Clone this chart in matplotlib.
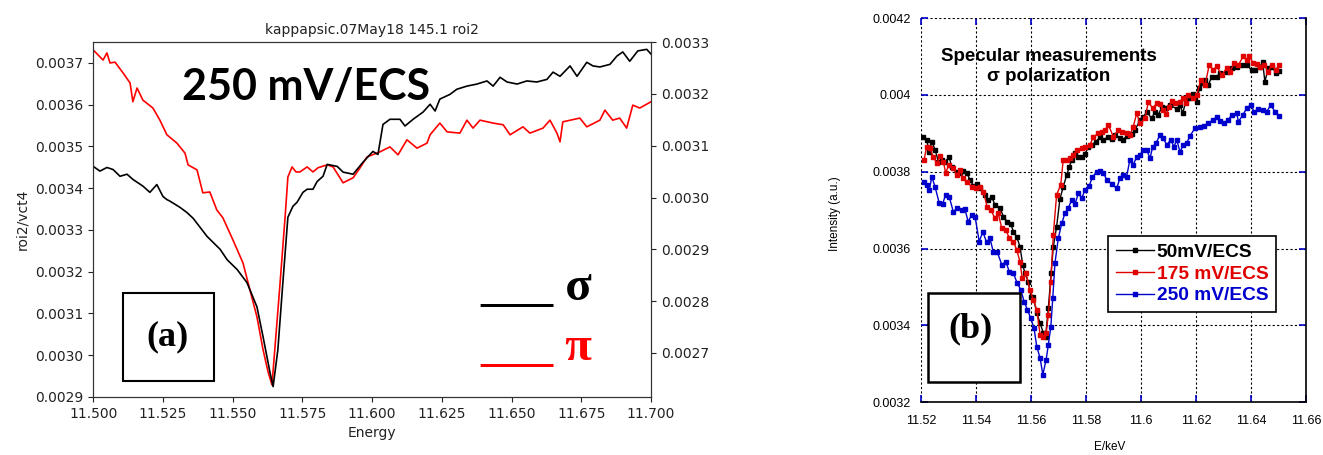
"""Two-panel XANES comparison: (a) sigma/pi at 250 mV/ECS, (b) specular sigma vs potential."""
import numpy as np
import matplotlib
matplotlib.use("Agg")
import matplotlib.pyplot as plt
from matplotlib.patches import Rectangle
from matplotlib.ticker import FormatStrFormatter, FuncFormatter, MultipleLocator

# ---- panel (a): 250 mV/ECS, pi (red, left axis) and sigma (black, right axis) ----
a_pi_energy = [11.500, 11.5035, 11.5049, 11.506, 11.5078, 11.5107, 11.5132, 11.5142, 11.5157, 11.5178,
               11.5214, 11.5239, 11.5264, 11.530, 11.5329, 11.534, 11.5372, 11.5393, 11.5418, 11.5443,
               11.5465, 11.5501, 11.5537, 11.5562, 11.5587, 11.5609, 11.5627, 11.5641, 11.567, 11.5688,
               11.5698, 11.5713, 11.5727, 11.5741, 11.5767, 11.5788, 11.5806, 11.5839, 11.586, 11.5896,
               11.5932, 11.5957, 11.5982, 11.6028, 11.6064, 11.6093, 11.6125, 11.6161, 11.6197, 11.6208,
               11.6243, 11.6269, 11.6315, 11.634, 11.6362, 11.6387, 11.6434, 11.647, 11.6495, 11.6541,
               11.6566, 11.6613, 11.6638, 11.6663, 11.6674, 11.6684, 11.6745, 11.677, 11.6817, 11.6835,
               11.6863, 11.6888, 11.6913, 11.6935, 11.696, 11.700]
a_pi_e4 = [37.31, 37.07, 37.24, 37.00, 37.02, 36.76, 36.52, 36.07, 36.40, 36.11,
           35.92, 35.63, 35.28, 35.08, 34.84, 34.56, 34.44, 33.89, 33.91, 33.48,
           33.29, 32.76, 32.21, 31.56, 30.92, 30.13, 29.60, 29.29, 31.73, 33.31,
           34.27, 34.51, 34.39, 34.39, 34.51, 34.39, 34.49, 34.56, 34.51, 34.13,
           34.25, 34.49, 34.75, 34.87, 34.99, 34.80, 35.16, 34.96, 35.08, 35.28,
           35.56, 35.35, 35.32, 35.63, 35.44, 35.63, 35.56, 35.52, 35.28, 35.47,
           35.32, 35.44, 35.63, 35.32, 35.11, 35.59, 35.68, 35.47, 35.63, 35.87,
           35.63, 35.68, 35.44, 35.99, 35.92, 36.07]

a_sigma_energy = [11.500, 11.5024, 11.5049, 11.5071, 11.5096, 11.5121, 11.5142, 11.5178, 11.5203, 11.5228,
                  11.525, 11.5264, 11.5275, 11.5311, 11.5336, 11.5358, 11.5408, 11.5455, 11.548, 11.5516,
                  11.5551, 11.5587, 11.5609, 11.5634, 11.5645, 11.5662, 11.568, 11.5698, 11.5716, 11.5731,
                  11.5752, 11.5767, 11.5788, 11.5803, 11.5824, 11.5839, 11.5875, 11.5896, 11.5932, 11.5967,
                  11.6003, 11.6021, 11.6039, 11.6064, 11.610, 11.6118, 11.6147, 11.6183, 11.6208, 11.6226,
                  11.6243, 11.6279, 11.6304, 11.634, 11.6376, 11.6412, 11.6434, 11.6459, 11.6484, 11.652,
                  11.6555, 11.6591, 11.6627, 11.6649, 11.6674, 11.671, 11.6735, 11.677, 11.6792, 11.6817,
                  11.6853, 11.6878, 11.6899, 11.6924, 11.6953, 11.6985, 11.700]
a_sigma_e4 = [30.60, 30.51, 30.58, 30.54, 30.41, 30.45, 30.35, 30.22, 30.10, 30.25,
              30.02, 29.96, 29.93, 29.81, 29.71, 29.60, 29.25, 29.00, 28.80, 28.61,
              28.36, 27.89, 27.31, 26.62, 26.35, 27.06, 28.36, 29.62, 29.83, 29.91,
              30.10, 30.16, 30.16, 30.31, 30.41, 30.64, 30.60, 30.49, 30.45, 30.68,
              30.89, 30.83, 31.41, 31.51, 31.51, 31.38, 31.51, 31.65, 31.80, 31.67,
              31.90, 31.99, 32.09, 32.15, 32.19, 32.25, 32.15, 32.32, 32.23, 32.19,
              32.25, 32.23, 32.28, 32.42, 32.34, 32.54, 32.34, 32.61, 32.54, 32.52,
              32.57, 32.73, 32.81, 32.63, 32.83, 32.86, 32.77]

# ---- panel (b): specular, sigma polarization, three potentials ----
b50_energy = [11.5209, 11.5221, 11.5231, 11.524, 11.5252, 11.5264, 11.5276, 11.5288, 11.5303, 11.5312,
              11.533, 11.5342, 11.5354, 11.5367, 11.5379, 11.5391, 11.5405, 11.5415, 11.5433, 11.5445,
              11.5457, 11.5469, 11.5488, 11.550, 11.5514, 11.5527, 11.5536, 11.5548, 11.556, 11.557,
              11.5578, 11.559, 11.560, 11.5608, 11.5621, 11.5633, 11.5645, 11.5653, 11.5663, 11.5673,
              11.5681, 11.5693, 11.5705, 11.5717, 11.573, 11.5739, 11.5748, 11.576, 11.5772, 11.5784,
              11.5796, 11.5808, 11.582, 11.5836, 11.5851, 11.5863, 11.5881, 11.5893, 11.5905, 11.5923,
              11.5935, 11.5947, 11.5966, 11.5978, 11.5996, 11.6008, 11.602, 11.6038, 11.605, 11.6062,
              11.6075, 11.609, 11.6105, 11.6129, 11.6141, 11.6151, 11.6163, 11.6177, 11.6189, 11.6202,
              11.6211, 11.622, 11.6232, 11.6244, 11.6256, 11.6274, 11.6286, 11.631, 11.6329, 11.6347,
              11.6365, 11.6383, 11.6401, 11.6413, 11.6431, 11.6441, 11.6449, 11.6461, 11.6474, 11.6489,
              11.6501]
b50_e4 = [38.91, 38.83, 38.52, 38.78, 38.57, 38.26, 38.31, 38.26, 38.38, 38.13,
          38.00, 37.96, 38.03, 37.96, 37.79, 37.63, 37.68, 37.57, 37.40, 37.27,
          37.35, 37.14, 37.05, 36.83, 36.70, 36.64, 36.44, 36.31, 36.05, 35.58,
          35.36, 35.14, 34.74, 34.75, 34.32, 34.06, 33.80, 33.70, 34.45, 35.36,
          36.05, 36.57, 37.29, 37.61, 37.92, 38.13, 38.31, 38.48, 38.39, 38.38,
          38.46, 38.65, 38.70, 38.78, 38.91, 38.83, 38.91, 38.85, 38.96, 38.87,
          38.83, 38.93, 38.98, 39.09, 39.35, 39.42, 39.56, 39.39, 39.56, 39.48,
          39.68, 39.65, 39.74, 39.63, 39.74, 39.52, 39.87, 39.91, 40.02, 39.82,
          40.17, 40.30, 40.39, 40.26, 40.47, 40.47, 40.56, 40.60, 40.69, 40.73,
          40.78, 40.78, 40.65, 40.65, 40.72, 40.86, 40.34, 40.69, 40.73, 40.58,
          40.63]

b175_energy = [11.5212, 11.5221, 11.5233, 11.5245, 11.5258, 11.527, 11.5282, 11.529, 11.5303, 11.5318,
               11.533, 11.5342, 11.5354, 11.5367, 11.5385, 11.540, 11.5415, 11.5427, 11.5441, 11.5454,
               11.5469, 11.5481, 11.5494, 11.5509, 11.5521, 11.5536, 11.5548, 11.556, 11.5568, 11.5582,
               11.5596, 11.5608, 11.5621, 11.5633, 11.5645, 11.5655, 11.5663, 11.5672, 11.5681, 11.5693,
               11.5708, 11.5717, 11.573, 11.5742, 11.5754, 11.5766, 11.5784, 11.5796, 11.5814, 11.5826,
               11.5844, 11.5857, 11.5869, 11.5881, 11.5899, 11.5917, 11.5929, 11.5947, 11.5959, 11.5971,
               11.5984, 11.5996, 11.6014, 11.6026, 11.6042, 11.6056, 11.6068, 11.608, 11.609, 11.6102,
               11.6111, 11.6123, 11.6141, 11.6153, 11.6163, 11.6171, 11.6189, 11.6202, 11.6216, 11.6232,
               11.6247, 11.6262, 11.6274, 11.6292, 11.631, 11.6322, 11.6337, 11.6353, 11.6371, 11.6383,
               11.6393, 11.6407, 11.6419, 11.6431, 11.6446, 11.6461, 11.6474, 11.6489, 11.6501]
b175_e4 = [38.31, 38.65, 38.61, 38.39, 38.22, 38.41, 38.26, 37.98, 38.18, 38.09,
           37.92, 38.05, 37.83, 37.74, 37.61, 37.57, 37.61, 37.48, 37.09, 37.01,
           36.79, 36.92, 36.53, 36.49, 36.27, 36.18, 35.97, 35.66, 35.23, 35.36,
           34.93, 34.67, 34.41, 33.76, 33.71, 33.80, 34.28, 35.14, 36.36, 37.40,
           37.66, 38.31, 38.31, 38.35, 38.44, 38.57, 38.61, 38.65, 38.70, 38.90,
           39.00, 39.04, 39.09, 39.22, 38.91, 39.09, 39.04, 39.00, 38.96, 39.17,
           39.52, 39.26, 39.39, 39.82, 39.65, 39.78, 39.76, 39.61, 39.50, 39.69,
           39.85, 39.80, 39.82, 39.93, 39.80, 40.00, 39.91, 40.00, 40.39, 40.26,
           40.78, 40.65, 40.75, 40.52, 40.69, 40.60, 40.82, 40.78, 41.01, 40.91,
           41.01, 40.82, 40.80, 40.72, 40.78, 40.60, 40.78, 40.65, 40.78]

b250_energy = [11.5212, 11.5221, 11.5231, 11.524, 11.5252, 11.5267, 11.5279, 11.529, 11.5303, 11.5318,
               11.5332, 11.5348, 11.536, 11.5372, 11.5385, 11.5397, 11.5412, 11.5425, 11.5439, 11.5451,
               11.5463, 11.5478, 11.5494, 11.5509, 11.5521, 11.5536, 11.555, 11.5563, 11.5575, 11.5587,
               11.5599, 11.5611, 11.5621, 11.5633, 11.5643, 11.5655, 11.5663, 11.5672, 11.5679, 11.5687,
               11.5699, 11.5712, 11.5723, 11.5735, 11.5748, 11.576, 11.5772, 11.5784, 11.5796, 11.5811,
               11.5823, 11.5839, 11.5851, 11.5863, 11.5875, 11.5893, 11.5911, 11.5923, 11.5935, 11.5947,
               11.5959, 11.5971, 11.5984, 11.5996, 11.6008, 11.602, 11.6032, 11.6042, 11.6054, 11.6068,
               11.608, 11.6093, 11.6107, 11.6119, 11.6129, 11.6141, 11.6153, 11.6165, 11.6177, 11.6195,
               11.6214, 11.6228, 11.6244, 11.626, 11.6274, 11.6286, 11.6301, 11.6316, 11.6329, 11.6347,
               11.6353, 11.6369, 11.6383, 11.6398, 11.641, 11.6425, 11.6441, 11.6456, 11.647, 11.6486,
               11.6501]
b250_e4 = [37.74, 37.66, 37.53, 37.87, 37.60, 37.18, 37.16, 37.40, 37.35, 36.96,
           37.05, 37.01, 37.03, 36.70, 36.88, 36.83, 36.18, 36.44, 36.16, 36.27,
           35.92, 35.90, 35.58, 35.66, 35.40, 35.36, 35.10, 34.93, 34.62, 34.41,
           34.19, 33.93, 33.45, 33.15, 32.72, 33.11, 33.50, 33.97, 34.71, 35.62,
           36.27, 36.66, 36.92, 37.05, 37.27, 37.16, 37.44, 37.31, 37.53, 37.63,
           37.86, 38.00, 38.03, 37.97, 37.79, 37.68, 37.57, 37.83, 37.92, 37.87,
           38.31, 38.18, 38.39, 38.44, 38.57, 38.57, 38.35, 38.65, 38.74, 38.96,
           38.87, 38.70, 38.83, 38.65, 38.83, 38.52, 38.70, 38.74, 38.93, 39.13,
           39.17, 39.19, 39.26, 39.35, 39.42, 39.33, 39.28, 39.35, 39.48, 39.52,
           39.30, 39.48, 39.65, 39.74, 39.56, 39.63, 39.61, 39.56, 39.74, 39.56,
           39.45]

b_labels = ["50mV/ECS", "175 mV/ECS", "250 mV/ECS"]
b_colors = ["black", "#e00000", "#0000cc"]
SCALE = 1e-4  # intensities above are stored in units of 1e-4

fig = plt.figure(figsize=(13.23, 4.55), dpi=100)

# ================= panel (a) =================
ax1 = fig.add_axes([0.0705, 0.1275, 0.4215, 0.780])
ax2 = ax1.twinx()
ax1.plot(a_pi_energy, np.array(a_pi_e4) * SCALE, color="red", lw=1.2)
ax2.plot(a_sigma_energy, np.array(a_sigma_e4) * SCALE, color="black", lw=1.2)

ax1.set_xlim(11.5, 11.7)
ax1.set_ylim(0.00290, 0.003750)
ax2.set_ylim(0.002615, 0.003300)
ax1.xaxis.set_major_locator(MultipleLocator(0.025))
ax1.xaxis.set_major_formatter(FormatStrFormatter("%.3f"))
ax1.yaxis.set_major_locator(MultipleLocator(0.0001))
ax1.yaxis.set_major_formatter(FormatStrFormatter("%.4f"))
ax2.yaxis.set_major_locator(MultipleLocator(0.0001))
ax2.yaxis.set_major_formatter(FormatStrFormatter("%.4f"))
for ax in (ax1, ax2):
    ax.tick_params(labelsize=10, colors="#222222")
    for sp in ax.spines.values():
        sp.set_color("#333333")
ax1.set_xlabel("Energy", fontsize=10, color="#222222")
ax1.set_ylabel("roi2/vct4", fontsize=10, color="#222222")
ax1.set_title("kappapsic.07May18 145.1 roi2", fontsize=10, color="#222222")

ax1.text(0.1585, 0.836, "250 mV/ECS", transform=ax1.transAxes, fontsize=31,
         fontweight="bold", family="Lato", va="baseline", ha="left")
ax1.text(0.6934, 0.273, "___ σ", transform=ax1.transAxes, fontsize=35,
         fontweight="bold", family="Liberation Serif", color="black", va="baseline")
ax1.text(0.6934, 0.104, "___ π", transform=ax1.transAxes, fontsize=35,
         fontweight="bold", family="Liberation Serif", color="red", va="baseline")
ax1.add_patch(Rectangle((0.0527, 0.045), 0.1637, 0.248, transform=ax1.transAxes,
                        fill=False, lw=1.5, ec="black", zorder=5))
ax1.text(0.134, 0.17, "(a)", transform=ax1.transAxes, fontsize=26, fontweight="bold",
         family="Liberation Serif", ha="center", va="center")

# ================= panel (b) =================
bx = fig.add_axes([0.696, 0.1158, 0.2915, 0.8446])
series = [(b50_energy, b50_e4), (b175_energy, b175_e4), (b250_energy, b250_e4)]
for (e, v), lab, col in zip(series, b_labels, b_colors):
    bx.plot(e, np.array(v) * SCALE, color=col, lw=1.0, marker="s", ms=2.2, label=lab)

bx.set_xlim(11.52, 11.66)
bx.set_ylim(0.0032, 0.0042)
bx.xaxis.set_major_locator(MultipleLocator(0.02))
bx.yaxis.set_major_locator(MultipleLocator(0.0002))
gfmt = FuncFormatter(lambda v, p: f"{v:.4f}".rstrip("0").rstrip("."))
bx.xaxis.set_major_formatter(gfmt)
bx.yaxis.set_major_formatter(gfmt)
bx.grid(True, ls=(0, (2, 2)), color="black", lw=0.8)
bx.tick_params(direction="in", length=5, width=1.2, color="#0000cc",
               top=True, right=True, labelsize=9)
bx.tick_params(axis="x", pad=9)
bx.tick_params(axis="y", pad=7)
for lbl in bx.get_xticklabels() + bx.get_yticklabels():
    lbl.set_family("Liberation Sans")
bx.spines["top"].set_visible(False)
bx.spines["left"].set_visible(False)
bx.spines["right"].set_linewidth(1.2)
bx.spines["bottom"].set_linewidth(1.2)

bx.set_ylabel("Intensity (a.u.)", fontsize=8.5, family="Liberation Sans")
bx.yaxis.set_label_coords(-0.207, 0.49)
bx.set_xlabel("E/keV", fontsize=8.5, family="Liberation Sans")
bx.xaxis.set_label_coords(0.49, -0.10)

bx.text(0.332, 0.874, "Specular measurements\nσ polarization", transform=bx.transAxes,
        fontsize=13.5, fontweight="bold", family="Liberation Sans", ha="center", va="center")

leg = bx.legend(loc="upper left", bbox_to_anchor=(0.4853, 0.4327), borderaxespad=0,
                fancybox=False, framealpha=1, edgecolor="black", handlelength=2.0,
                handletextpad=0.15, labelspacing=0.22, borderpad=0.4,
                prop={"family": "Liberation Sans", "weight": "bold", "size": 13.8})
leg.get_frame().set_linewidth(1.2)
for txt, col in zip(leg.get_texts(), b_colors):
    txt.set_color(col)

bx.add_patch(Rectangle((0.0187, 0.0528), 0.2383, 0.2316, transform=bx.transAxes,
                       fill=True, fc="white", lw=1.8, ec="black", zorder=5))
bx.text(0.1276, 0.19, "(b)", transform=bx.transAxes, fontsize=26, fontweight="bold",
        family="Liberation Serif", ha="center", va="center", zorder=6)

fig.savefig("out.png", dpi=100)
